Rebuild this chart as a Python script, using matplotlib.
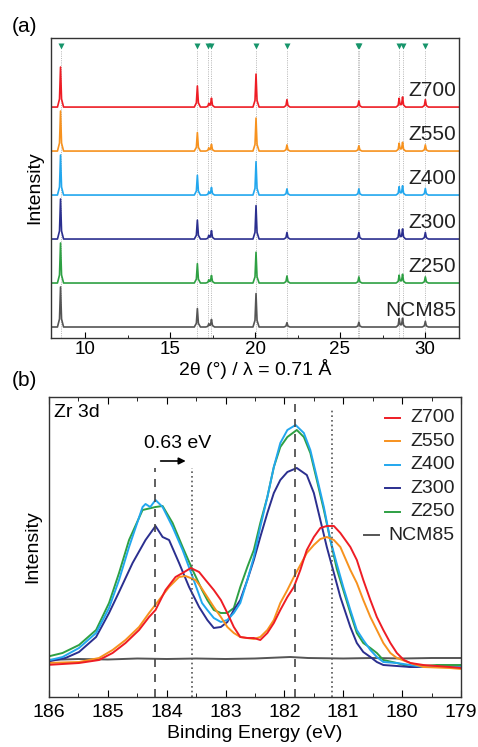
import numpy as np
import matplotlib
matplotlib.use("Agg")
import matplotlib.pyplot as plt

plt.rcParams['font.family'] = ['Liberation Sans', 'DejaVu Sans']

# ---- (a) XRD data: reflection positions and peak heights per sample ----
names = ['NCM85', 'Z250', 'Z300', 'Z400', 'Z550', 'Z700']
colors = ['#555555', '#2ea043', '#2b2f8f', '#22a7ee', '#f7921e', '#ee1d25']
peak_pos = [8.56, 16.61, 17.28, 17.44, 20.06, 21.88, 26.11, 28.48, 28.68, 30.02]
ref_pos = [8.56, 16.61, 17.24, 17.44, 20.06, 21.88, 26.08, 26.14, 28.48, 28.68, 30.02]
h_ncm85 = [0.91, 0.42, 0.07, 0.17, 0.76, 0.10, 0.11, 0.19, 0.20, 0.13]
h_z250 = [0.91, 0.44, 0.07, 0.17, 0.70, 0.16, 0.14, 0.18, 0.20, 0.14]
h_z300 = [0.91, 0.43, 0.08, 0.19, 0.76, 0.15, 0.15, 0.21, 0.23, 0.15]
h_z400 = [0.91, 0.45, 0.07, 0.17, 0.76, 0.14, 0.14, 0.19, 0.21, 0.15]
h_z550 = [0.91, 0.42, 0.07, 0.15, 0.75, 0.14, 0.12, 0.18, 0.20, 0.14]
h_z700 = [0.91, 0.48, 0.08, 0.20, 0.75, 0.17, 0.14, 0.20, 0.23, 0.17]
heights = [h_ncm85, h_z250, h_z300, h_z400, h_z550, h_z700]

# ---- (b) XPS Zr 3d data ----
e_z250 = [186.05, 185.77, 185.49, 185.20, 184.98, 184.81, 184.64, 184.41, 184.19, 184.07, 183.90, 183.73, 183.56, 183.40, 183.31,
          183.20, 183.08, 182.97, 182.86, 182.75, 182.63, 182.52, 182.41, 182.29, 182.18, 182.07, 181.95, 181.79, 181.67, 181.56,
          181.45, 181.33, 181.22, 181.11, 181.00, 180.88, 180.77, 180.66, 180.54, 180.43, 180.32, 180.09, 179.86, 179.41, 178.99]
i_z250 = [40, 44, 52, 67, 94, 124, 157, 187, 190, 191, 174, 150, 127, 107, 97,
          87, 84, 84, 89, 110, 130, 147, 174, 200, 230, 250, 260, 267, 260, 244,
          217, 187, 157, 128, 107, 84, 64, 54, 49, 44, 37, 34, 30, 32, 32]
e_z400 = [186.05, 185.77, 185.49, 185.20, 184.98, 184.81, 184.64, 184.41, 184.36, 184.28, 184.19, 184.07, 183.90, 183.73, 183.56,
          183.40, 183.31, 183.20, 183.08, 182.97, 182.86, 182.75, 182.63, 182.52, 182.41, 182.29, 182.18, 182.07, 181.95, 181.81,
          181.67, 181.56, 181.45, 181.33, 181.22, 181.11, 181.00, 180.88, 180.77, 180.66, 180.54, 180.43, 180.32, 180.09, 179.64, 178.99]
i_z400 = [36, 40, 49, 64, 89, 117, 150, 190, 193, 190, 197, 190, 170, 147, 120,
          94, 87, 79, 75, 77, 84, 94, 117, 140, 170, 200, 230, 254, 267, 272,
          264, 247, 220, 190, 157, 133, 110, 87, 67, 57, 47, 40, 35, 34, 30, 30]
e_z300 = [186.05, 185.72, 185.49, 185.20, 184.98, 184.81, 184.58, 184.36, 184.19, 184.07, 183.96, 183.79, 183.62, 183.45, 183.31,
          183.20, 183.08, 182.97, 182.86, 182.75, 182.63, 182.52, 182.41, 182.29, 182.18, 182.07, 181.95, 181.79, 181.62, 181.50,
          181.39, 181.28, 181.16, 181.05, 180.88, 180.77, 180.66, 180.54, 180.43, 180.32, 179.86, 178.99]
i_z300 = [35, 39, 45, 60, 84, 105, 134, 157, 171, 160, 157, 134, 110, 90, 77,
          69, 70, 75, 87, 97, 117, 137, 160, 184, 204, 217, 225, 229, 222, 204,
          177, 150, 124, 100, 70, 54, 45, 40, 35, 32, 30, 30]
e_z700 = [186.05, 185.49, 185.15, 184.92, 184.70, 184.47, 184.30, 184.19, 184.02, 183.85, 183.73, 183.59, 183.45, 183.34, 183.20,
          183.08, 182.97, 182.86, 182.75, 182.63, 182.52, 182.41, 182.29, 182.18, 182.07, 181.95, 181.84, 181.73, 181.62, 181.50,
          181.39, 181.28, 181.16, 181.05, 180.88, 180.77, 180.66, 180.54, 180.43, 180.32, 180.20, 180.09, 179.97, 179.86, 179.64,
          179.19, 178.99]
i_z700 = [32, 34, 37, 44, 54, 67, 80, 87, 107, 120, 124, 129, 125, 117, 107,
          97, 84, 70, 60, 59, 59, 57, 64, 74, 87, 100, 110, 127, 147, 160,
          169, 171, 171, 164, 150, 137, 117, 97, 80, 67, 54, 44, 37, 34, 32,
          30, 29]
e_z550 = [186.05, 185.49, 185.15, 184.92, 184.70, 184.47, 184.30, 184.13, 183.96, 183.79, 183.68, 183.51, 183.42, 183.31, 183.20,
          183.08, 182.97, 182.86, 182.75, 182.52, 182.41, 182.29, 182.18, 182.07, 181.95, 181.84, 181.73, 181.62, 181.50, 181.39,
          181.28, 181.16, 181.05, 180.88, 180.77, 180.66, 180.54, 180.43, 180.32, 180.20, 180.09, 179.86, 179.64, 179.19, 178.99]
i_z550 = [34, 35, 39, 47, 57, 70, 84, 97, 110, 120, 121, 117, 110, 100, 90,
          80, 70, 64, 60, 58, 60, 67, 77, 94, 107, 120, 132, 144, 152, 158,
          160, 157, 150, 127, 114, 97, 80, 67, 54, 44, 39, 34, 30, 29, 28]
e_ncm85 = [186.05, 185.5, 185.0, 184.5, 184.0, 183.5, 183.0, 182.5, 182.1, 181.9, 181.6, 181.0, 180.5, 180.0, 179.5, 178.99]
i_ncm85 = [37, 38, 37.5, 38.5, 38, 38.5, 38, 38.5, 39.5, 40, 39, 38.5, 39, 38.5, 39, 39]

xps_e = [e_ncm85, e_z250, e_z300, e_z400, e_z550, e_z700]
xps_i = [i_ncm85, i_z250, i_z300, i_z400, i_z550, i_z700]

dash_lines = [184.2, 181.82]
dot_lines = [183.57, 181.19]

fig = plt.figure(figsize=(4.78, 7.47), dpi=100)
ax1 = fig.add_axes([51/478, 1 - 338/747, 408/478, 300/747])
ax2 = fig.add_axes([49/478, 1 - 697/747, 412/478, 300/747])

# ---------------- panel (a) ----------------
# narrow peak profile (offset, fraction of height)
prof_dx = np.array([-0.18, -0.06, 0.0, 0.06, 0.18])
prof_f = np.array([0.0, 0.2, 1.0, 0.2, 0.0])
for x in ref_pos:
    ax1.plot([x, x], [-0.25, 6.3], color='#b5b5b5', lw=0.7, ls=(0, (1, 1.3)), zorder=1)
    ax1.plot(x, 6.39, marker='v', color='#17956b', ms=4, mec='none', zorder=3)

for k, (name, col, h) in enumerate(zip(names, colors, heights)):
    xs = np.concatenate([[8.0, 32.0], *[p + prof_dx for p in peak_pos]])
    xs = np.unique(xs)
    ys = np.zeros_like(xs)
    for p, hh in zip(peak_pos, h):
        ys += np.interp(xs, p + prof_dx, hh * prof_f, left=0, right=0)
    ax1.plot(xs, ys + k, color=col, lw=1.2, zorder=2)
    ax1.text(31.85, k + 0.38, name, ha='right', va='center', fontsize=15, color='#222222')

ax1.set_xlim(8, 32)
ax1.set_ylim(-0.25, 6.57)
ax1.set_yticks([])
ax1.set_xticks([10, 15, 20, 25, 30])
ax1.set_xticks(np.arange(12.5, 32, 5), minor=True)
ax1.tick_params(axis='x', which='both', direction='in', labelsize=13.5, pad=2)
ax1.tick_params(axis='x', which='major', length=4)
ax1.tick_params(axis='x', which='minor', length=2.5)
ax1.set_xlabel('2θ (°) / λ = 0.71 Å', fontsize=14)
ax1.xaxis.set_label_coords(0.5, -0.07)
ax1.set_ylabel('Intensity', fontsize=14)
ax1.yaxis.set_label_coords(-0.02, 0.5)

# ---------------- panel (b) ----------------
for e, i, col in zip(xps_e, xps_i, colors):
    ax2.plot(e, i, color=col, lw=1.4)

ax2.plot([dash_lines[0]] * 2, [0, 229], color='#444444', lw=1.2, ls=(0, (4.8, 4.2)))
ax2.plot([dot_lines[0]] * 2, [0, 229], color='#555555', lw=1.2, ls=(0, (1, 1.8)))
ax2.plot([dash_lines[1]] * 2, [0, 295], color='#444444', lw=1.2, ls=(0, (4.8, 4.2)))
ax2.plot([dot_lines[1]] * 2, [0, 289], color='#555555', lw=1.2, ls=(0, (1, 1.8)))

ax2.annotate('', xy=(183.63, 236), xytext=(184.15, 236),
             arrowprops=dict(arrowstyle='-|>', color='k', lw=1.2, mutation_scale=10))
ax2.text(183.81, 253, '0.63 eV', ha='center', va='center', fontsize=14)
ax2.text(0.012, 0.947, 'Zr 3d', transform=ax2.transAxes, ha='left', va='center', fontsize=14)

ax2.set_xlim(186, 179)
ax2.set_ylim(0, 300)
ax2.set_yticks([])
ax2.set_xticks(np.arange(179, 187, 1))
ax2.set_xticks(np.arange(179.5, 186, 1), minor=True)
ax2.tick_params(axis='x', which='both', direction='in', top=True, labelsize=14, pad=5)
ax2.tick_params(axis='x', which='major', length=5)
ax2.tick_params(axis='x', which='minor', length=3)
ax2.set_xlabel('Binding Energy (eV)', fontsize=14)
ax2.xaxis.set_label_coords(0.5, -0.093)
ax2.set_ylabel('Intensity', fontsize=14)
ax2.yaxis.set_label_coords(-0.02, 0.5)

for ax in (ax1, ax2):
    for s in ax.spines.values():
        s.set_color('#333333')
        s.set_linewidth(1.0)

# legend: right-aligned labels with short handles in front
leg_y = [0.930, 0.852, 0.774, 0.696, 0.618, 0.540]
fig.canvas.draw()
r = fig.canvas.get_renderer()
for yy, name, col in zip(leg_y, names[::-1], colors[::-1]):
    t = ax2.text(0.985, yy, name, transform=ax2.transAxes, ha='right', va='center', fontsize=14, color='#222222')
    bb = t.get_window_extent(r).transformed(ax2.transAxes.inverted())
    x1 = bb.x0 - 10/412
    ax2.plot([x1 - 15/412, x1], [yy, yy], transform=ax2.transAxes, color=col, lw=1.4)

fig.text(12/478, 1 - 27/747, '(a)', fontsize=15, va='center', ha='left')
fig.text(12/478, 1 - 380/747, '(b)', fontsize=15, va='center', ha='left')

fig.savefig('out.png', dpi=100)
